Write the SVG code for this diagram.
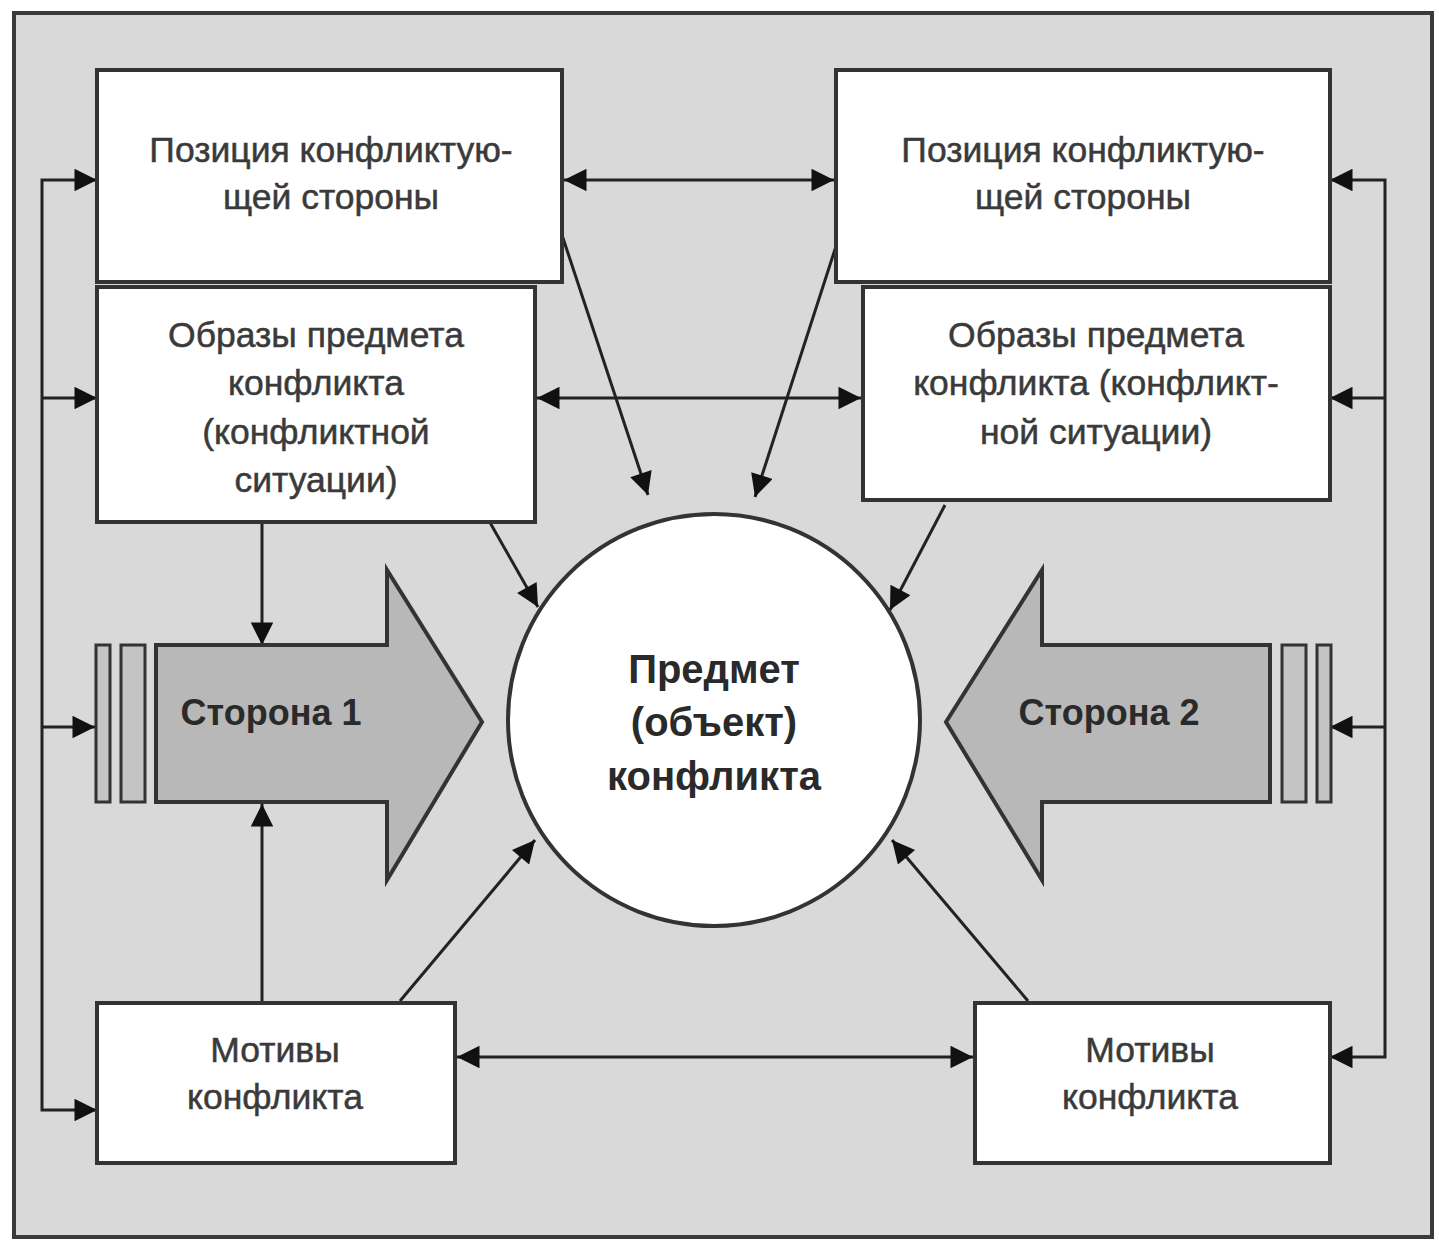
<svg xmlns="http://www.w3.org/2000/svg" width="1439" height="1242" viewBox="0 0 1439 1242">
<style>
.box{fill:#fff;stroke:#333;stroke-width:4}
.t{font-family:"Liberation Sans",Arial,sans-serif;font-size:35.5px;fill:#3a3a3a;stroke:#3a3a3a;stroke-width:0.5;text-anchor:middle}
.b{font-family:"Liberation Sans",Arial,sans-serif;font-weight:bold;fill:#2a2a2a;text-anchor:middle}
.c{fill:none;stroke:#222;stroke-width:3}
.arr{fill:#b8b8b8;stroke:#333;stroke-width:4;stroke-linejoin:miter}
.bar{fill:#c4c4c4;stroke:#333;stroke-width:3}
</style>
<defs>
<marker id="ah" viewBox="0 0 10 10" refX="10" refY="5" markerWidth="8.5" markerHeight="7.5" markerUnits="strokeWidth" orient="auto-start-reverse">
<path d="M0,0 L10,5 L0,10 Z" fill="#111"/>
</marker>
</defs>
<rect x="0" y="0" width="1439" height="1242" fill="#fff"/>
<rect id="frame" x="14" y="13" width="1418" height="1224" fill="#d9d9d9" stroke="#3a3a3a" stroke-width="4"/>

<g id="connectors">
<polyline class="c" points="97,180 42,180 42,1110 97,1110" marker-start="url(#ah)" marker-end="url(#ah)"/>
<line class="c" x1="42" y1="398" x2="97" y2="398" marker-end="url(#ah)"/>
<line class="c" x1="42" y1="727" x2="95" y2="727" marker-end="url(#ah)"/>
<polyline class="c" points="1330,180 1385,180 1385,1057 1330,1057" marker-start="url(#ah)" marker-end="url(#ah)"/>
<line class="c" x1="1385" y1="398" x2="1330" y2="398" marker-end="url(#ah)"/>
<line class="c" x1="1385" y1="727" x2="1330" y2="727" marker-end="url(#ah)"/>
<line class="c" x1="564" y1="180" x2="834" y2="180" marker-start="url(#ah)" marker-end="url(#ah)"/>
<line class="c" x1="537" y1="398" x2="861" y2="398" marker-start="url(#ah)" marker-end="url(#ah)"/>
<line class="c" x1="457" y1="1057" x2="973" y2="1057" marker-start="url(#ah)" marker-end="url(#ah)"/>
<line class="c" x1="562" y1="235" x2="648" y2="495" marker-end="url(#ah)"/>
<line class="c" x1="838" y1="240" x2="755" y2="497" marker-end="url(#ah)"/>
<line class="c" x1="480" y1="505" x2="538" y2="607" marker-end="url(#ah)"/>
<line class="c" x1="945" y1="505" x2="890" y2="610" marker-end="url(#ah)"/>
<line class="c" x1="400" y1="1001" x2="535" y2="840" marker-end="url(#ah)"/>
<line class="c" x1="1028" y1="1001" x2="892" y2="840" marker-end="url(#ah)"/>
<line class="c" x1="262" y1="522" x2="262" y2="645" marker-end="url(#ah)"/>
<line class="c" x1="262" y1="1003" x2="262" y2="804" marker-end="url(#ah)"/>
</g>

<g id="pos1">
<rect class="box" x="97" y="70" width="465" height="212"/>
<text class="t" x="331" y="162">Позиция конфликтую-</text>
<text class="t" x="331" y="209">щей стороны</text>
</g>
<g id="obr1">
<rect class="box" x="97" y="287" width="438" height="235"/>
<text class="t" x="316" y="347">Образы предмета</text>
<text class="t" x="316" y="395">конфликта</text>
<text class="t" x="316" y="444">(конфликтной</text>
<text class="t" x="316" y="492">ситуации)</text>
</g>
<g id="pos2">
<rect class="box" x="836" y="70" width="494" height="212"/>
<text class="t" x="1083" y="162">Позиция конфликтую-</text>
<text class="t" x="1083" y="209">щей стороны</text>
</g>
<g id="obr2">
<rect class="box" x="863" y="287" width="467" height="213"/>
<text class="t" x="1096" y="347">Образы предмета</text>
<text class="t" x="1096" y="395">конфликта (конфликт-</text>
<text class="t" x="1096" y="444">ной ситуации)</text>
</g>
<g id="subject">
<circle cx="714" cy="720" r="206" fill="#fff" stroke="#333" stroke-width="4"/>
<text class="b" x="714" y="683" font-size="40">Предмет</text>
<text class="b" x="714" y="736" font-size="40">(объект)</text>
<text class="b" x="714" y="790" font-size="40">конфликта</text>
</g>
<g id="side1">
<rect class="bar" x="96" y="645" width="14" height="157"/>
<rect class="bar" x="121" y="645" width="24" height="157"/>
<polygon class="arr" points="156,645 387,645 387,570 482,722 387,880 387,802 156,802"/>
<text class="b" x="271" y="725" font-size="36">Сторона 1</text>
</g>
<g id="side2">
<rect class="bar" x="1317" y="645" width="14" height="157"/>
<rect class="bar" x="1282" y="645" width="24" height="157"/>
<polygon class="arr" points="1270,645 1042,645 1042,570 946,722 1042,880 1042,802 1270,802"/>
<text class="b" x="1109" y="725" font-size="36">Сторона 2</text>
</g>
<g id="mot1">
<rect class="box" x="97" y="1003" width="358" height="160"/>
<text class="t" x="275" y="1062">Мотивы</text>
<text class="t" x="275" y="1109">конфликта</text>
</g>
<g id="mot2">
<rect class="box" x="975" y="1003" width="355" height="160"/>
<text class="t" x="1150" y="1062">Мотивы</text>
<text class="t" x="1150" y="1109">конфликта</text>
</g>
</svg>
